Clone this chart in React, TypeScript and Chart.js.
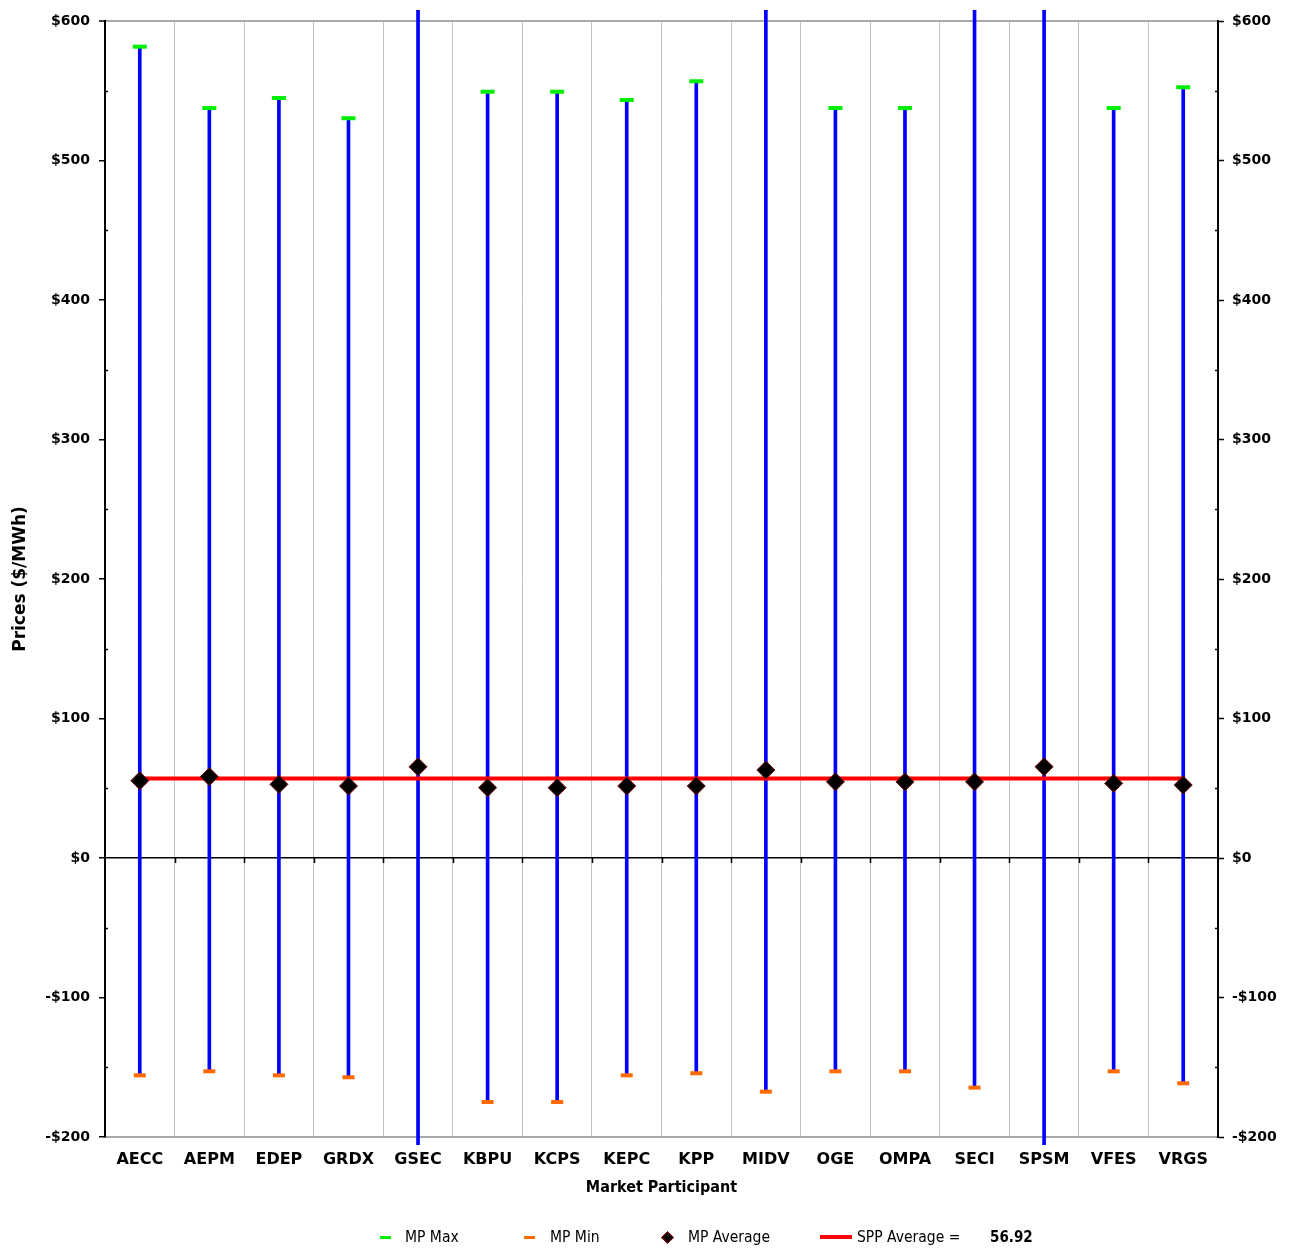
import React, { useEffect, useRef } from 'react';
import { Chart, registerables } from 'chart.js';

Chart.register(...registerables);

const participants = ['AECC', 'AEPM', 'EDEP', 'GRDX', 'GSEC', 'KBPU', 'KCPS', 'KEPC', 'KPP', 'MIDV', 'OGE', 'OMPA', 'SECI', 'SPSM', 'VFES', 'VRGS'];
// values above $600 / below -$200 run off the chart (estimated)
const mpMax = [581.6, 537.6, 544.8, 530.3, 700, 549.3, 549.3, 543.4, 556.8, 700, 537.6, 537.6, 700, 700, 537.6, 552.5];
const mpMin = [-155.8, -152.9, -155.8, -157.2, -250, -174.9, -174.9, -155.8, -154.3, -167.5, -152.9, -152.9, -164.6, -250, -152.9, -161.5];
const mpAverage = [55.4, 58.3, 52.8, 51.6, 65.4, 50.4, 50.4, 51.6, 51.6, 63.1, 54.6, 54.6, 54.6, 65.4, 53.5, 52.3];
const sppAverage = 56.92;
const yMin = -200;
const yMax = 600;
const yStep = 100;

const SANS = "'DejaVu Sans', sans-serif";
const COND = "'DejaVu Sans Condensed', 'DejaVu Sans', sans-serif";
const catFont = { family: SANS, size: 16, weight: 'bold' as const };
const yTickFont = { family: SANS, size: 14, weight: 'bold' as const };
const xTitleFont = { family: COND, size: 16, weight: 'bold' as const };
const yTitleFont = { family: SANS, size: 17, weight: 'bold' as const };

const fmt = (v: number) => (v < 0 ? '-$' + Math.abs(v) : '$' + v);

const extraTicks = {
  id: 'extraTicks',
  afterDraw(chart: any) {
    const { ctx, chartArea, scales } = chart;
    const y = scales.y;
    const x = scales.x;
    ctx.save();
    ctx.strokeStyle = '#000';
    ctx.lineWidth = 1.5;
    ctx.beginPath();
    for (let v = yMin + yStep / 2; v < yMax; v += yStep) {
      const py = Math.round(y.getPixelForValue(v)) + 0.5;
      ctx.moveTo(chartArea.left, py);
      ctx.lineTo(chartArea.left + 3, py);
      ctx.moveTo(chartArea.right, py);
      ctx.lineTo(chartArea.right - 3, py);
    }
    const y0 = y.getPixelForValue(0);
    for (let i = 1; i < participants.length; i++) {
      const px = Math.round((x.getPixelForValue(i - 1) + x.getPixelForValue(i)) / 2) + 0.5;
      ctx.moveTo(px, y0);
      ctx.lineTo(px, y0 + 5);
    }
    ctx.stroke();
    ctx.restore();
  },
};

export default function App() {
  const ref = useRef<HTMLCanvasElement | null>(null);

  useEffect(() => {
    if (!ref.current) return;
    const chart = new Chart(ref.current, {
      type: 'bar',
      data: {
        labels: participants,
        datasets: [
          {
            type: 'line',
            label: 'MP Average',
            data: mpAverage,
            showLine: false,
            pointStyle: 'rectRot',
            pointRadius: 9,
            pointBackgroundColor: '#000000',
            pointBorderColor: '#7a0000',
            pointBorderWidth: 1,
            order: 0,
            clip: 10,
          } as any,
          {
            type: 'line',
            label: 'SPP Average',
            data: participants.map(() => sppAverage),
            borderColor: '#ff0000',
            borderWidth: 4,
            pointRadius: 0,
            order: 1,
          } as any,
          {
            type: 'line',
            label: 'MP Max',
            data: mpMax,
            showLine: false,
            pointStyle: 'line',
            pointRadius: 7,
            pointBorderWidth: 4,
            pointBorderColor: '#00ee00',
            order: 2,
            clip: 4,
          } as any,
          {
            type: 'line',
            label: 'MP Min',
            data: mpMin,
            showLine: false,
            pointStyle: 'line',
            pointRadius: 6,
            pointBorderWidth: 4,
            pointBorderColor: '#ff6a00',
            order: 3,
            clip: 4,
          } as any,
          {
            type: 'bar',
            label: 'Range',
            data: participants.map((_, i) => [mpMin[i], mpMax[i]]),
            backgroundColor: '#0000ff',
            borderWidth: 0,
            barThickness: 3,
            order: 4,
            clip: { left: 0, right: 0, top: 11, bottom: 8 },
          } as any,
        ],
      },
      options: {
        animation: false,
        responsive: false,
        maintainAspectRatio: false,
        layout: { padding: { top: 21, bottom: 53, left: 0, right: 0 } },
        plugins: {
          legend: { display: false },
          tooltip: { enabled: false },
        },
        scales: {
          x: {
            type: 'category',
            offset: true,
            grid: { color: '#bfbfbf', lineWidth: 1, drawTicks: false, offset: true },
            border: { color: '#a8a8a8', width: 2 },
            ticks: { font: catFont, color: '#000', padding: 13, maxRotation: 0, autoSkip: false },
            title: {
              display: true,
              text: 'Market Participant',
              font: xTitleFont,
              color: '#000',
              padding: { top: 0, bottom: 0 },
            },
            afterFit: (s: any) => {
              s.height = 60;
            },
          },
          y: {
            position: 'left',
            min: yMin,
            max: yMax,
            ticks: { stepSize: yStep, callback: (v: any) => fmt(Number(v)), font: yTickFont, color: '#000', padding: 9 },
            grid: {
              color: (c: any) => (c.tick && c.tick.value === 0 ? '#000000' : c.tick && c.tick.value === yMax ? '#a8a8a8' : 'rgba(0,0,0,0)'),
              lineWidth: (c: any) => (c.tick && c.tick.value === yMax ? 2 : 1.5),
              tickColor: '#000',
              tickLength: 6,
              tickWidth: 1.5,
            },
            border: { color: '#000', width: 2 },
            title: {
              display: true,
              text: 'Prices ($/MWh)',
              font: yTitleFont,
              color: '#000',
              padding: { top: 10, bottom: 0 },
            },
            afterFit: (s: any) => {
              s.width = 105;
            },
          },
          y2: {
            position: 'right',
            min: yMin,
            max: yMax,
            ticks: { stepSize: yStep, callback: (v: any) => fmt(Number(v)), font: yTickFont, color: '#000', padding: 8 },
            grid: { drawOnChartArea: false, tickColor: '#000', tickLength: 6, tickWidth: 1.5 },
            border: { color: '#000', width: 2 },
            afterFit: (s: any) => {
              s.width = 73;
            },
          },
        },
      },
      plugins: [extraTicks],
    } as any);
    return () => chart.destroy();
  }, []);

  const txt = (left: number, text: string, bold = false) => (
    <span
      style={{
        position: 'absolute',
        left,
        top: 1228,
        lineHeight: '18px',
        fontSize: bold ? 15 : 15.5,
        fontFamily: COND,
        fontWeight: bold ? 'bold' : 'normal',
        color: '#000',
        whiteSpace: 'nowrap',
      }}
    >
      {text}
    </span>
  );

  return (
    <div style={{ position: 'absolute', left: 0, top: 0, width: 1291, height: 1250, background: '#fff', overflow: 'hidden' }}>
      <canvas ref={ref} width={1291} height={1250} style={{ display: 'block', width: 1291, height: 1250 }} />
      <div style={{ position: 'absolute', left: 380, top: 1236, width: 11, height: 3, background: '#00ee00' }} />
      {txt(405, 'MP Max')}
      <div style={{ position: 'absolute', left: 524, top: 1236, width: 11, height: 3, background: '#ff6a00' }} />
      {txt(550, 'MP Min')}
      <div
        style={{
          position: 'absolute',
          left: 663,
          top: 1233,
          width: 7,
          height: 7,
          background: '#000',
          border: '1px solid #7a0000',
          transform: 'rotate(45deg)',
        }}
      />
      {txt(688, 'MP Average')}
      <div style={{ position: 'absolute', left: 820, top: 1235, width: 32, height: 4, background: '#ff0000' }} />
      {txt(857, 'SPP Average =')}
      {txt(990, String(sppAverage), true)}
    </div>
  );
}
